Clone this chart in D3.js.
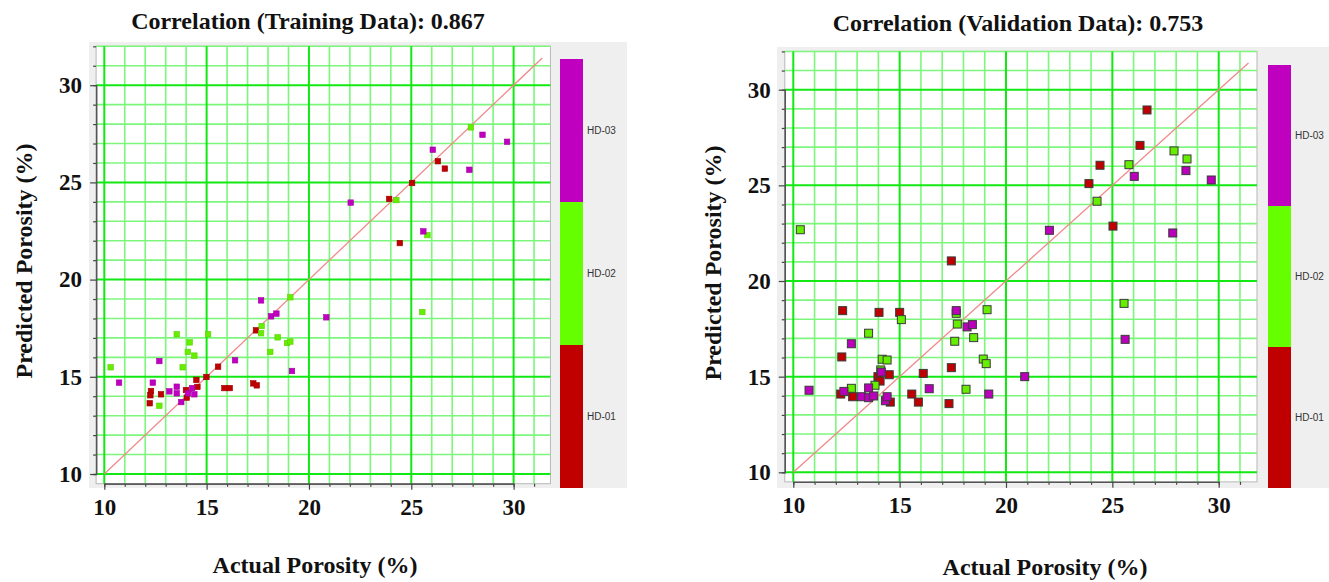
<!DOCTYPE html>
<html>
<head>
<meta charset="utf-8">
<script src="https://cdn.jsdelivr.net/npm/d3@7/dist/d3.min.js"></script>
<style>
  body { margin: 0; background: #ffffff; }
  svg { display: block; }
</style>
</head>
<body>
<svg id="chart" width="1329" height="582"></svg>
<script>
// Wells and their colour-bar colours
const wells = ["HD-01", "HD-02", "HD-03"];
const wellColors = ["#c00000", "#66ff00", "#bf00bf"];

// Tick labels on both axes
const xTickLabels = [10, 15, 20, 25, 30];
const yTickLabels = [10, 15, 20, 25, 30];

// Training data: [actual porosity %, predicted porosity %]
const trainHD01 = [
  [12.28, 14.27], [12.25, 14.05], [12.22, 13.64], [12.77, 14.10], [13.99, 14.32],
  [14.03, 13.93], [14.50, 14.84], [14.55, 14.48], [14.99, 14.99], [15.56, 15.52],
  [15.87, 14.42], [16.13, 14.42], [17.28, 14.66], [17.45, 14.56], [17.41, 17.39],
  [26.30, 26.09], [26.64, 25.71], [25.04, 24.97], [23.92, 24.15], [24.44, 21.88]
];
const trainHD02 = [
  [10.31, 15.49], [12.69, 13.51], [13.54, 17.19], [13.83, 15.49], [14.08, 16.28],
  [14.17, 16.77], [14.40, 16.09], [15.07, 17.19], [17.69, 17.61], [17.66, 17.24],
  [18.11, 16.28], [18.47, 17.03], [18.93, 16.74], [19.09, 16.81], [19.09, 19.09],
  [27.91, 27.83], [24.27, 24.09], [25.79, 22.29], [25.54, 18.33]
];
const trainHD03 = [
  [10.72, 14.70], [12.69, 15.81], [12.37, 14.70], [13.18, 14.25], [13.54, 14.49],
  [13.54, 14.15], [13.76, 13.70], [14.09, 14.15], [14.29, 14.42], [14.40, 14.10],
  [16.39, 15.85], [17.66, 18.93], [18.15, 18.11], [18.41, 18.25], [19.17, 15.30],
  [20.85, 18.06], [28.48, 27.45], [29.68, 27.09], [26.05, 26.68], [27.84, 25.65],
  [22.04, 23.96], [25.59, 22.48]
];

// Validation data: [actual porosity %, predicted porosity %]
const validHD01 = [
  [17.43, 21.05], [12.32, 18.45], [12.28, 16.03], [12.23, 14.09], [12.79, 13.95],
  [14.03, 18.36], [13.98, 15.00], [14.08, 14.77], [14.51, 15.10], [14.56, 13.67],
  [15.00, 18.36], [15.57, 14.09], [15.88, 13.67], [16.11, 15.17], [17.32, 13.59],
  [17.43, 15.47], [26.63, 28.94], [26.30, 27.09], [24.42, 26.05], [23.90, 25.09],
  [25.03, 22.87]
];
const validHD02 = [
  [10.33, 22.68], [12.73, 14.39], [13.54, 17.27], [13.84, 14.55], [14.18, 15.91],
  [14.41, 15.87], [14.11, 15.35], [15.08, 17.98], [17.66, 18.31], [17.71, 17.75],
  [17.59, 16.85], [18.48, 17.04], [18.12, 14.34], [19.11, 18.50], [18.93, 15.92],
  [19.07, 15.68], [27.90, 26.80], [28.51, 26.38], [25.78, 26.08], [24.28, 24.17],
  [25.55, 18.83]
];
const validHD03 = [
  [10.74, 14.29], [12.73, 16.72], [12.38, 14.23], [13.21, 13.95], [13.54, 13.90],
  [13.54, 14.41], [13.78, 13.99], [14.14, 15.24], [14.33, 13.74], [14.41, 13.95],
  [16.39, 14.37], [17.66, 18.45], [18.17, 17.60], [18.42, 17.72], [19.19, 14.09],
  [20.88, 15.00], [28.46, 25.77], [26.03, 25.47], [29.65, 25.28], [22.04, 22.65],
  [27.84, 22.51], [25.60, 16.95]
];

// Correlation coefficients shown in the titles
const trainCorrelation = 0.867;
const validCorrelation = 0.753;

// Axis extents (porosity %), identity line span
const xExtent = [9.6, 31.8];
const yExtent = [9.5, 32];
const identitySpan = [10, 31.4];

const svg = d3.select("#chart");
const serif = "'Liberation Serif', 'Times New Roman', serif";

function drawPanel(opt) {
  const g = svg.append("g");

  const x = d3.scaleLinear().domain([10, 30]).range([opt.x10, opt.x30]);
  const y = d3.scaleLinear().domain([10, 30]).range([opt.y10, opt.y30]);

  const px0 = x(xExtent[0]), px1 = x(xExtent[1]);
  const py0 = y(yExtent[1]), py1 = y(yExtent[0]);

  // grey frame behind plot and colour bar
  g.append("rect")
    .attr("x", opt.frame[0]).attr("y", opt.frame[1])
    .attr("width", opt.frame[2] - opt.frame[0])
    .attr("height", opt.frame[3] - opt.frame[1])
    .attr("fill", "#efefef");

  // plotting area
  g.append("rect")
    .attr("x", px0).attr("y", py0)
    .attr("width", px1 - px0).attr("height", py1 - py0)
    .attr("fill", "#ffffff")
    .attr("stroke", "#b8b8b8").attr("stroke-width", 1);

  // grid: one line per unit, brighter every five units
  const xGrid = d3.range(Math.ceil(xExtent[0]), Math.floor(xExtent[1]) + 1);
  const yGrid = d3.range(Math.ceil(yExtent[0]), Math.floor(yExtent[1]) + 1);
  const grid = g.append("g");
  const isMajor = v => v % 5 === 0;
  grid.selectAll("line.vx").data(xGrid.filter(v => !isMajor(v))).join("line")
    .attr("x1", d => x(d)).attr("x2", d => x(d))
    .attr("y1", py0).attr("y2", py1)
    .attr("stroke", "#7cf77c").attr("stroke-width", 1.6);
  grid.selectAll("line.hy").data(yGrid.filter(v => !isMajor(v))).join("line")
    .attr("y1", d => y(d)).attr("y2", d => y(d))
    .attr("x1", px0).attr("x2", px1)
    .attr("stroke", "#7cf77c").attr("stroke-width", 1.6);
  grid.selectAll("line.mx").data(xGrid.filter(isMajor)).join("line")
    .attr("x1", d => x(d)).attr("x2", d => x(d))
    .attr("y1", py0).attr("y2", py1)
    .attr("stroke", "#12e812").attr("stroke-width", 2);
  grid.selectAll("line.my").data(yGrid.filter(isMajor)).join("line")
    .attr("y1", d => y(d)).attr("y2", d => y(d))
    .attr("x1", px0).attr("x2", px1)
    .attr("stroke", "#12e812").attr("stroke-width", 2);

  // 1:1 line
  g.append("line")
    .attr("x1", x(identitySpan[0])).attr("y1", y(identitySpan[0]))
    .attr("x2", x(identitySpan[1])).attr("y2", y(identitySpan[1]))
    .attr("stroke", "#f08a8a").attr("stroke-width", 1.3);

  // points per well
  const s = opt.markerSize;
  opt.series.forEach((pts, i) => {
    g.append("g").selectAll("rect").data(pts).join("rect")
      .attr("x", d => x(d[0]) - s / 2)
      .attr("y", d => y(d[1]) - s / 2)
      .attr("width", s).attr("height", s)
      .attr("fill", opt.markerColors[i])
      .attr("stroke", opt.markerStroke[i])
      .attr("stroke-width", opt.markerStrokeWidth);
  });

  // axes: minor ticks each unit, labelled major ticks every five
  const styleAxis = sel => {
    sel.select(".domain").attr("stroke", "#555").attr("stroke-width", 1.3);
    sel.selectAll(".tick line").attr("stroke", "#444").attr("stroke-width", 1.2);
  };
  const minorX = xGrid.filter(v => !isMajor(v));
  const minorY = yGrid.filter(v => !isMajor(v));

  g.append("g").attr("transform", `translate(0,${py1})`)
    .call(d3.axisBottom(x).tickValues(minorX).tickSize(3).tickFormat(""))
    .call(styleAxis);
  g.append("g").attr("transform", `translate(${px0},0)`)
    .call(d3.axisLeft(y).tickValues(minorY).tickSize(3).tickFormat(""))
    .call(styleAxis);

  const xAxis = g.append("g").attr("transform", `translate(0,${py1})`)
    .call(d3.axisBottom(x).tickValues(xTickLabels).tickSize(6).tickPadding(9)
      .tickSizeOuter(0).tickFormat(d3.format("d")))
    .call(styleAxis);
  xAxis.selectAll("text")
    .attr("font-family", serif).attr("font-weight", "bold")
    .attr("font-size", 23).attr("fill", "#111");

  const yAxis = g.append("g").attr("transform", `translate(${px0},0)`)
    .call(d3.axisLeft(y).tickValues(yTickLabels).tickSize(6).tickPadding(8)
      .tickSizeOuter(0).tickFormat(d3.format("d")))
    .call(styleAxis);
  yAxis.selectAll("text")
    .attr("font-family", serif).attr("font-weight", "bold")
    .attr("font-size", 23).attr("fill", "#111");

  // colour bar legend, HD-03 on top
  const band = d3.scaleBand().domain(wells.slice().reverse())
    .range([opt.barTop, opt.barBottom]).paddingInner(0);
  const leg = g.append("g");
  wells.forEach((w, i) => {
    leg.append("rect")
      .attr("x", opt.barX).attr("y", band(w))
      .attr("width", opt.barW).attr("height", band.bandwidth())
      .attr("fill", wellColors[i]);
    leg.append("text")
      .attr("x", opt.barX + opt.barW + 4)
      .attr("y", band(w) + band.bandwidth() / 2)
      .attr("dy", "0.35em")
      .attr("font-family", "'Liberation Sans', Arial, sans-serif")
      .attr("font-size", 10).attr("fill", "#333")
      .text(w);
  });

  // title and axis titles
  g.append("text")
    .attr("x", opt.titleX).attr("y", opt.titleY)
    .attr("text-anchor", "middle")
    .attr("font-family", serif).attr("font-weight", "bold")
    .attr("font-size", 24).attr("fill", "#111")
    .text(opt.title);

  g.append("text")
    .attr("x", opt.xLabelX).attr("y", opt.xLabelY)
    .attr("text-anchor", "middle")
    .attr("font-family", serif).attr("font-weight", "bold")
    .attr("font-size", 24).attr("fill", "#111")
    .text("Actual Porosity (%)");

  g.append("text")
    .attr("transform", `translate(${opt.yLabelX},${opt.yLabelY}) rotate(-90)`)
    .attr("text-anchor", "middle")
    .attr("font-family", serif).attr("font-weight", "bold")
    .attr("font-size", 24).attr("fill", "#111")
    .text("Predicted Porosity (%)");
}

drawPanel({
  x10: 104.3, x30: 513.6, y10: 474, y30: 85.2,
  frame: [89, 42, 627, 488],
  series: [trainHD01, trainHD02, trainHD03],
  markerSize: 5.5,
  markerColors: ["#c00000", "#66ee00", "#c000c0"],
  markerStroke: ["#a00000", "#5cd000", "#a800a8"],
  markerStrokeWidth: 0.6,
  barX: 560, barW: 23, barTop: 59, barBottom: 488,
  title: `Correlation (Training Data): ${trainCorrelation}`,
  titleX: 308, titleY: 29,
  xLabelX: 315, xLabelY: 573,
  yLabelX: 32, yLabelY: 261
});

drawPanel({
  x10: 793.3, x30: 1218.7, y10: 472.3, y30: 89.7,
  frame: [777, 47, 1329, 488],
  series: [validHD01, validHD02, validHD03],
  markerSize: 8,
  markerColors: ["#c00000", "#66ee00", "#bb00bb"],
  markerStroke: ["#3a3a3a", "#3a3a3a", "#3a3a3a"],
  markerStrokeWidth: 1,
  barX: 1268, barW: 23, barTop: 65, barBottom: 488,
  title: `Correlation (Validation Data): ${validCorrelation}`,
  titleX: 1018, titleY: 31,
  xLabelX: 1045, xLabelY: 575,
  yLabelX: 721, yLabelY: 263
});
</script>
</body>
</html>
